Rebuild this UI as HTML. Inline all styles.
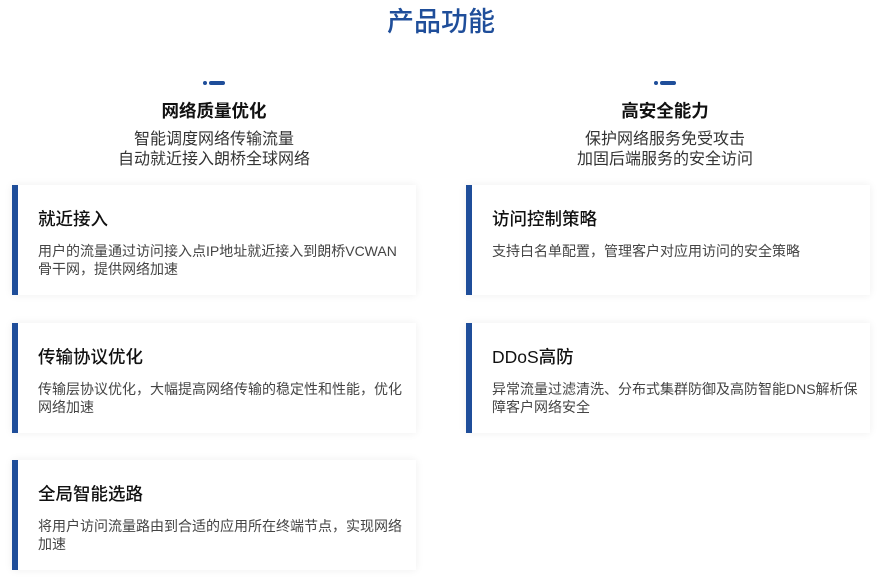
<!DOCTYPE html>
<html><head><meta charset="utf-8"><style>
*{margin:0;padding:0;box-sizing:border-box}
body{width:882px;height:581px;background:#fff;position:relative;overflow:hidden;font-family:"Liberation Sans","Noto Sans CJK SC",sans-serif;color:#222}
.t{position:absolute;left:0;width:882px;top:5px;text-align:center;font-size:27px;color:#1f4e9a;font-weight:500;line-height:34px}
.col{position:absolute;top:0;width:440px;text-align:center}
.ic{position:absolute;top:81px;height:4px}
.ic .d{position:absolute;left:0;top:0;width:4px;height:4px;border-radius:2px;background:#1f4e9a}
.ic .l{position:absolute;left:6px;top:0;width:16px;height:4px;border-radius:2px;background:#1f4e9a}
.h{position:absolute;top:99px;left:0;width:100%;font-size:17.5px;font-weight:bold;line-height:24px;color:#111}
.s{position:absolute;top:130px;left:0;width:100%;font-size:16px;line-height:20px;color:#333}
.c{position:absolute;width:404px;height:110px;background:#fff;box-shadow:0 0 8px rgba(0,0,0,.07);border-left:6px solid #1f4e9a}
.c b{position:absolute;left:20px;top:22px;font-size:17.5px;font-weight:500;color:#111;line-height:24px}
.c p{position:absolute;left:20px;top:57px;width:368px;font-size:14px;line-height:18px;color:#444}
</style></head><body>
<div class="t">产品功能</div>
<div class="col" style="left:-6px">
<div class="ic" style="left:209px"><div class="d"></div><div class="l"></div></div>
<div class="h">网络质量优化</div>
<div class="s">智能调度网络传输流量<br>自动就近接入朗桥全球网络</div>
</div>
<div class="col" style="left:445px">
<div class="ic" style="left:209px"><div class="d"></div><div class="l"></div></div>
<div class="h">高安全能力</div>
<div class="s">保护网络服务免受攻击<br>加固后端服务的安全访问</div>
</div>
<div class="c" style="left:12px;top:185px"><b>就近接入</b><p>用户的流量通过访问接入点IP地址就近接入到朗桥VCWAN骨干网，提供网络加速</p></div>
<div class="c" style="left:12px;top:323px"><b>传输协议优化</b><p>传输层协议优化，大幅提高网络传输的稳定性和性能，优化网络加速</p></div>
<div class="c" style="left:12px;top:460px"><b>全局智能选路</b><p>将用户访问流量路由到合适的应用所在终端节点，实现网络加速</p></div>
<div class="c" style="left:466px;top:185px"><b>访问控制策略</b><p>支持白名单配置，管理客户对应用访问的安全策略</p></div>
<div class="c" style="left:466px;top:323px"><b>DDoS高防</b><p>异常流量过滤清洗、分布式集群防御及高防智能DNS解析保障客户网络安全</p></div>
</body></html>
